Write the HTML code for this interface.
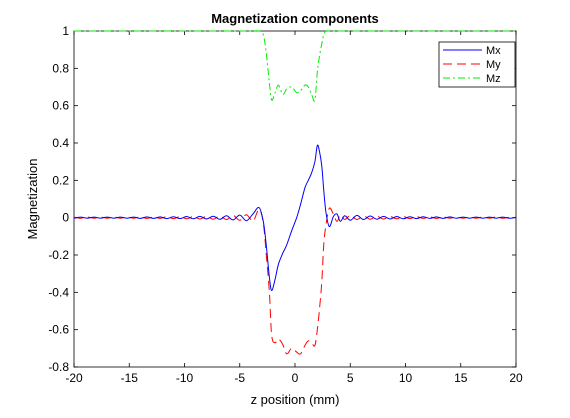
<!DOCTYPE html>
<html><head><meta charset="utf-8"><style>
body{margin:0;background:#fff}
svg{font-family:"Liberation Sans",sans-serif}
</style></head><body>
<svg width="570" height="413" id="chart">
<rect x="0" y="0" width="570" height="413" fill="#fff"/>
<g id="axes"></g>
<g id="series"></g>
<text x="295" y="23" text-anchor="middle" font-weight="bold" font-size="13">Magnetization components</text>
<text x="295" y="404" text-anchor="middle" font-size="13">z position (mm)</text>
<text x="0" y="0" transform="translate(37,199) rotate(-90)" text-anchor="middle" font-size="13">Magnetization</text>
<g>
<rect x="439" y="42" width="76" height="45" fill="#fff" stroke="#000" stroke-width="0.8"/>
<line x1="443" y1="50" x2="482" y2="50" stroke="#0000ff"/>
<text x="486" y="54" font-size="11">Mx</text>
<line x1="443" y1="64" x2="482" y2="64" stroke="#ff0000" stroke-dasharray="9,5"/>
<text x="486" y="68" font-size="11">My</text>
<line x1="443" y1="78" x2="482" y2="78" stroke="#00ee00" stroke-dasharray="7,3,2,3"/>
<text x="486" y="82" font-size="11">Mz</text>
</g>
</svg>
<script>
const zLeft=[-20,-19.4,-18.8,-18.2,-17.6,-17,-16.4,-15.8,-15.2,-14.6,-14,-13.4,-12.8,-12.2,-11.6,-11,-10.4,-9.8,-9.2,-8.6,-8,-7.4,-6.8,-6.2,-5.6,-5,-4.4,-3.8];
const zMid=[-3.25,-2.87,-2.6,-2.32,-2.11,-1.8,-1.5,-1.1,-0.75,-0.3,0.15,0.5,0.9,1.2,1.5,1.8,2.02,2.2,2.42,2.6,2.8,3.1,3.47,3.8,4.1,4.5];
const zRight=[5,5.6,6.2,6.8,7.4,8,8.6,9.2,9.8,10.4,11,11.6,12.2,12.8,13.4,14,14.6,15.2,15.8,16.4,17,17.6,18.2,18.8,19.4,20];
const mxLeft=[-0.003,0.003,-0.003,0.003,-0.003,0.003,-0.003,0.003,-0.003,0.003,-0.004,0.004,-0.004,0.004,-0.005,0.005,-0.005,0.006,-0.006,0.007,-0.007,0.008,-0.009,0.01,-0.012,0.014,-0.016,0.02];
const myLeft=[0.003,-0.003,0.003,-0.003,0.003,-0.003,0.003,-0.003,0.003,-0.003,0.004,-0.004,0.004,-0.004,0.005,-0.005,0.005,-0.006,0.006,-0.007,0.007,-0.008,0.009,-0.01,0.012,-0.014,0.016,-0.018];
const mxMid=[0.054,-0.02,-0.15,-0.32,-0.39,-0.33,-0.25,-0.19,-0.146,-0.07,0,0.07,0.16,0.2,0.24,0.3,0.386,0.36,0.28,0.15,0.03,-0.048,0.005,0.02,-0.02,0.01];
const myMid=[0.045,-0.03,-0.2,-0.4,-0.63,-0.67,-0.65,-0.68,-0.73,-0.7,-0.72,-0.73,-0.685,-0.66,-0.67,-0.685,-0.6,-0.5,-0.35,-0.15,-0.04,0.05,0.02,-0.02,0.015,-0.01];
const mzMid=[1,0.98,0.88,0.72,0.63,0.67,0.71,0.66,0.69,0.7,0.67,0.68,0.71,0.7,0.66,0.63,0.78,0.86,0.93,0.98,1,1,1,1,1,1];
const mxRight=[-0.014,0.012,-0.01,0.009,-0.008,0.007,-0.007,0.006,-0.006,0.005,-0.005,0.005,-0.004,0.004,-0.004,0.004,-0.003,0.003,-0.003,0.003,-0.003,0.003,-0.003,0.003,-0.003,0.002];
const myRight=[0.012,-0.01,0.009,-0.008,0.007,-0.007,0.006,-0.006,0.005,-0.005,0.005,-0.004,0.004,-0.004,0.004,-0.003,0.003,-0.003,0.003,-0.003,0.003,-0.003,0.003,-0.003,0.002,-0.002];
const xTicks=[-20,-15,-10,-5,0,5,10,15,20];
const yTicks=[-0.8,-0.6,-0.4,-0.2,0,0.2,0.4,0.6,0.8,1];
const yTickLabels=["-0.8","-0.6","-0.4","-0.2","0","0.2","0.4","0.6","0.8","1"];

const L=74,R=516,T=31,B=367;
const xs=z=>L+(z+20)/40*(R-L);
const ys=v=>B-(v+0.8)/1.8*(B-T);
const NS="http://www.w3.org/2000/svg";
const axes=document.getElementById('axes'),series=document.getElementById('series');
function mk(tag,attrs,parent){const e=document.createElementNS(NS,tag);for(const k in attrs)e.setAttribute(k,attrs[k]);parent.appendChild(e);return e;}
const box=mk('rect',{x:L,y:T,width:R-L,height:B-T,fill:'none',stroke:'#000','stroke-width':0.8},axes);


xTicks.forEach(t=>{const x=xs(t);
 mk('line',{x1:x,y1:B,x2:x,y2:B-4,stroke:'#000','stroke-width':0.8},axes);
 mk('line',{x1:x,y1:T,x2:x,y2:T+4,stroke:'#000','stroke-width':0.8},axes);
 const tx=mk('text',{x:x,y:B+15,'text-anchor':'middle','font-size':12},axes);tx.textContent=t;
 
 });
yTicks.forEach((t,i)=>{const y=ys(t);
 mk('line',{x1:L,y1:y,x2:L+4,y2:y,stroke:'#000','stroke-width':0.8},axes);
 mk('line',{x1:R,y1:y,x2:R-4,y2:y,stroke:'#000','stroke-width':0.8},axes);
 const tx=mk('text',{x:L-5,y:y+4,'text-anchor':'end','font-size':12},axes);tx.textContent=yTickLabels[i];
 
 });
const zAll=zLeft.concat(zMid,zRight);
const mx=mxLeft.concat(mxMid,mxRight);
const my=myLeft.concat(myMid,myRight);
const mz=zLeft.map(()=>1).concat(mzMid,zRight.map(()=>1));
function line(vals,color,dash,name){
 const P=zAll.map((z,i)=>[xs(z),ys(vals[i])]);
 let d='M'+P[0][0].toFixed(1)+','+P[0][1].toFixed(1);
 for(let i=0;i<P.length-1;i++){
  const p0=P[Math.max(0,i-1)],p1=P[i],p2=P[i+1],p3=P[Math.min(P.length-1,i+2)];
  const c1x=p1[0]+(p2[0]-p0[0])/6,c1y=p1[1]+(p2[1]-p0[1])/6;
  const c2x=p2[0]-(p3[0]-p1[0])/6,c2y=p2[1]-(p3[1]-p1[1])/6;
  d+=' C'+c1x.toFixed(1)+','+c1y.toFixed(1)+' '+c2x.toFixed(1)+','+c2y.toFixed(1)+' '+p2[0].toFixed(1)+','+p2[1].toFixed(1);
 }
 const p=mk('path',{d:d,fill:'none',stroke:color,'stroke-width':1,'stroke-linejoin':'round'},series);
 if(dash)p.setAttribute('stroke-dasharray',dash);
 
 
}
line(mz,'#00ee00','7,3,2,3','series-mz');
line(my,'#ff0000','9,5','series-my');
line(mx,'#0000ff',null,'series-mx');
</script>
</body></html>
